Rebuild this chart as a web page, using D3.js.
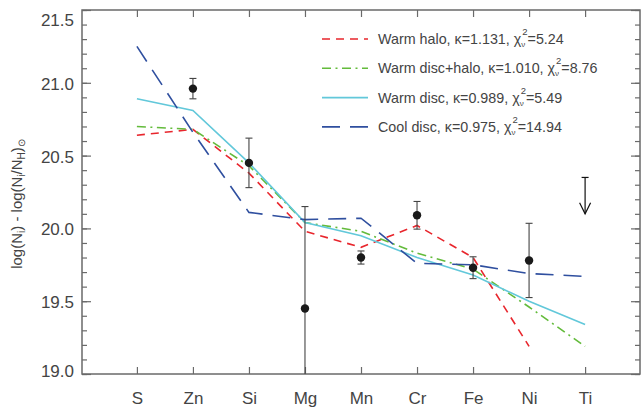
<!DOCTYPE html>
<html>
<head>
<meta charset="utf-8">
<script src="https://cdn.jsdelivr.net/npm/d3@7"></script>
<style>
  body { margin: 0; background: #fff; }
  svg { font-family: "Liberation Sans", Arial, sans-serif; }
</style>
</head>
<body>
<div id="chart"></div>
<script>
// Abundances by element
const elements = ['S', 'Zn', 'Si', 'Mg', 'Mn', 'Cr', 'Fe', 'Ni', 'Ti'];

// model curves (null = not drawn)
const warmHalo     = [20.64, 20.68, 20.38, 19.98, 19.87, 20.02, 19.80, 19.19, null];
const warmDiscHalo = [20.70, 20.68, 20.43, 20.04, 19.98, 19.83, 19.72, 19.46, 19.19];
const warmDisc     = [20.89, 20.81, 20.45, 20.04, 19.95, 19.80, 19.68, 19.50, 19.34];
const coolDisc     = [21.25, 20.66, 20.11, 20.06, 20.07, 19.76, 19.75, 19.69, 19.67];

// observed values and symmetric errors
const observed = [null, 20.96, 20.45, 19.45, 19.80, 20.09, 19.73, 19.78, null];
const obsError = [null, 0.07, 0.17, 0.70, 0.045, 0.095, 0.075, 0.255, null];

// upper limit (Ti)
const limitElement = 'Ti';
const limitTop = 20.35;
const limitTip = 20.10;

const yTicks = [19.0, 19.5, 20.0, 20.5, 21.0, 21.5];

const series = [
  { name: 'Warm halo', kappa: '1.131', chi: '5.24', values: warmHalo, color: '#e8262d', dash: '8,6' },
  { name: 'Warm disc+halo', kappa: '1.010', chi: '8.76', values: warmDiscHalo, color: '#63bb3b', dash: '9,4.5,2,4.5' },
  { name: 'Warm disc', kappa: '0.989', chi: '5.49', values: warmDisc, color: '#62c8da', dash: null },
  { name: 'Cool disc', kappa: '0.975', chi: '14.94', values: coolDisc, color: '#2f4f9f', dash: '18,10' }
];

const margin = { top: 10, right: 1, bottom: 36, left: 82 };
const W = 641, H = 410;
const width = W - margin.left - margin.right;
const height = H - margin.top - margin.bottom;

const svg = d3.select('#chart').append('svg')
  .attr('width', W)
  .attr('height', H);

const g = svg.append('g')
  .attr('transform', `translate(${margin.left},${margin.top})`);

// Escalas
const x = d3.scalePoint().domain(elements).range([0, width]).padding(0.98);
const y = d3.scaleLinear().domain([19.0, 21.5]).range([height, 0]);

g.append('clipPath').attr('id', 'plotclip')
  .append('rect').attr('width', width).attr('height', height);

const axisColor = '#6a6a6a';
const textColor = '#444';

// minor ticks
const minor = d3.range(190, 216).map(v => v / 10);
function styleAxis(sel) {
  sel.select('.domain').remove();
  sel.selectAll('line').attr('stroke', axisColor).attr('stroke-width', 1.2);
  sel.selectAll('text').attr('fill', textColor).style('font-size', '17px');
}

g.append('g').call(d3.axisLeft(y).tickValues(minor).tickSize(-5).tickFormat('')).call(styleAxis);
g.append('g').attr('transform', `translate(${width},0)`)
  .call(d3.axisRight(y).tickValues(minor).tickSize(-5).tickFormat('')).call(styleAxis);

g.append('g').call(d3.axisLeft(y).tickValues(yTicks).tickSize(-9).tickPadding(8).tickFormat(d3.format('.1f')))
  .call(styleAxis)
  .selectAll('text')
  .attr('dy', d => d === 21.5 ? '0.9em' : (d === 19.0 ? '0.15em' : '0.38em'));
g.append('g').attr('transform', `translate(${width},0)`)
  .call(d3.axisRight(y).tickValues(yTicks).tickSize(-9).tickFormat('')).call(styleAxis);

g.append('g').attr('transform', `translate(0,${height})`)
  .call(d3.axisBottom(x).tickSize(-7).tickPadding(18)).call(styleAxis);
g.append('g')
  .call(d3.axisTop(x).tickSize(-7).tickFormat('')).call(styleAxis);

// frame
g.append('rect')
  .attr('width', width).attr('height', height)
  .attr('fill', 'none').attr('stroke', axisColor).attr('stroke-width', 1.5);

// model lines
const plot = g.append('g').attr('clip-path', 'url(#plotclip)');
const line = d3.line()
  .defined(d => d.v !== null)
  .x(d => x(d.el))
  .y(d => y(d.v));

series.forEach(s => {
  plot.append('path')
    .datum(elements.map((el, i) => ({ el, v: s.values[i] })))
    .attr('d', line)
    .attr('fill', 'none')
    .attr('stroke', s.color)
    .attr('stroke-width', 1.6)
    .attr('stroke-dasharray', s.dash);
});

// error bars + points
const obsData = elements.map((el, i) => ({ el, v: observed[i], e: obsError[i] }))
  .filter(d => d.v !== null);

const errColor = '#444';
obsData.forEach(d => {
  const cx = x(d.el);
  plot.append('line')
    .attr('x1', cx).attr('x2', cx)
    .attr('y1', y(d.v + d.e)).attr('y2', y(d.v - d.e))
    .attr('stroke', errColor).attr('stroke-width', 1.1);
  [d.v + d.e, d.v - d.e].forEach(v => {
    plot.append('line')
      .attr('x1', cx - 3.5).attr('x2', cx + 3.5)
      .attr('y1', y(v)).attr('y2', y(v))
      .attr('stroke', errColor).attr('stroke-width', 1.1);
  });
});

plot.selectAll('.pt')
  .data(obsData)
  .enter()
  .append('circle')
  .attr('class', 'pt')
  .attr('cx', d => x(d.el))
  .attr('cy', d => y(d.v))
  .attr('r', 4.2)
  .attr('fill', '#1a1a1a');

// upper limit arrow
const lx = x(limitElement);
plot.append('line')
  .attr('x1', lx).attr('x2', lx).attr('y1', y(limitTop)).attr('y2', y(limitTip))
  .attr('stroke', '#111').attr('stroke-width', 1.2);
plot.append('line')
  .attr('x1', lx - 3.5).attr('x2', lx + 3.5).attr('y1', y(limitTop)).attr('y2', y(limitTop))
  .attr('stroke', '#111').attr('stroke-width', 1.2);
plot.append('path')
  .attr('d', `M${lx - 5.5},${y(limitTip) - 11}L${lx},${y(limitTip)}L${lx + 5.5},${y(limitTip) - 11}`)
  .attr('fill', 'none').attr('stroke', '#111').attr('stroke-width', 1.2);

// legend
const legend = svg.append('g').attr('transform', 'translate(322,39)');
series.forEach((s, i) => {
  const row = legend.append('g').attr('transform', `translate(0,${i * 29.3})`);
  row.append('line')
    .attr('x1', 0).attr('x2', 46)
    .attr('stroke', s.color).attr('stroke-width', 1.6)
    .attr('stroke-dasharray', s.dash);
  const t = row.append('text')
    .attr('x', 56).attr('y', 5)
    .attr('fill', textColor)
    .style('font-size', '14.3px');
  t.append('tspan').text(`${s.name}, κ=${s.kappa}, χ`);
  t.append('tspan').attr('dy', 3).style('font-size', '8px').text('ν');
  t.append('tspan').attr('dx', -3).attr('dy', -12).style('font-size', '9.5px').text('2');
  t.append('tspan').attr('dy', 9).text(`=${s.chi}`);
});

// y axis title
const yt = svg.append('text')
  .attr('transform', `translate(22,${margin.top + height / 2 + 12}) rotate(-90)`)
  .attr('text-anchor', 'middle')
  .attr('fill', textColor)
  .style('font-size', '15px');
yt.append('tspan').text('log(N');
yt.append('tspan').attr('dy', 3).style('font-size', '10px').text('i');
yt.append('tspan').attr('dy', -3).text(') - log(N');
yt.append('tspan').attr('dy', 3).style('font-size', '10px').text('i');
yt.append('tspan').attr('dy', -3).text('/N');
yt.append('tspan').attr('dy', 3).style('font-size', '10px').text('H');
yt.append('tspan').attr('dy', -3).text(')');
yt.append('tspan').attr('dy', 3).style('font-size', '10px').text('⊙');
</script>
</body>
</html>
